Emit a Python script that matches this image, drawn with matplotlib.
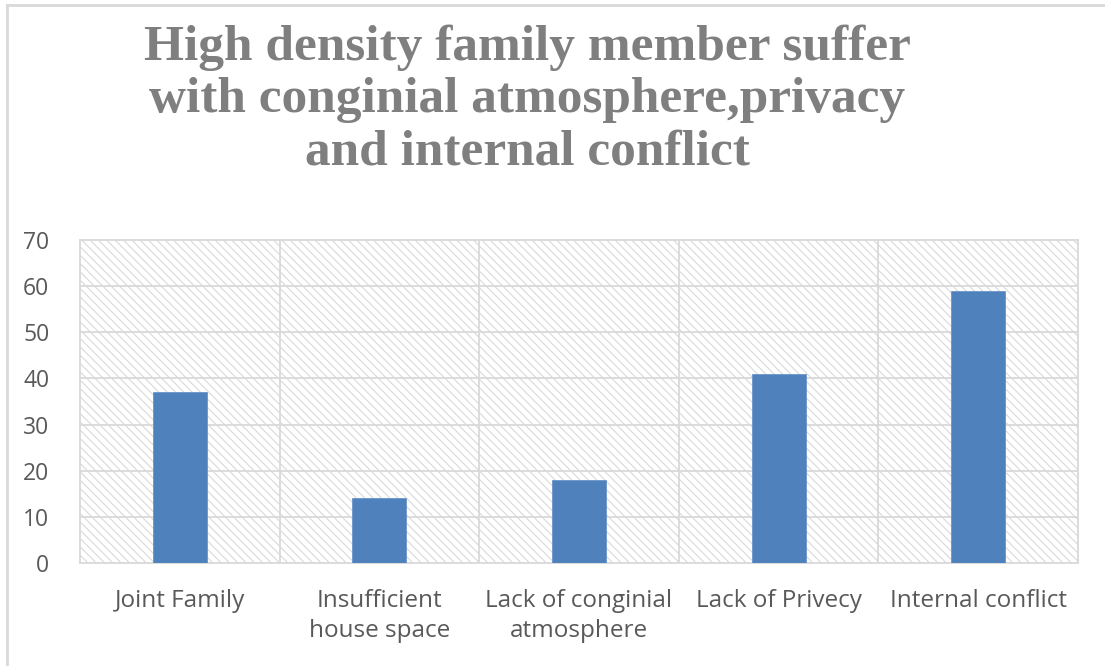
import matplotlib.pyplot as plt
from matplotlib.patches import Rectangle
from matplotlib.lines import Line2D

categories = ["Joint Family", "Insufficient\nhouse space", "Lack of conginial\natmosphere",
              "Lack of Privecy", "Internal conflict"]
values = [37, 14, 18, 41, 59]
yticks = [0, 10, 20, 30, 40, 50, 60, 70]

title = "High density family member suffer\nwith conginial atmosphere,privacy\nand internal conflict"

plt.rcParams["hatch.linewidth"] = 0.7
plt.rcParams["font.family"] = ["Open Sans", "DejaVu Sans"]

fig = plt.figure(figsize=(11.05, 6.66), dpi=100)
ax = fig.add_axes([80 / 1105, 1 - 563 / 666, 998 / 1105, 323 / 666])

# hatched plot area background
ax.add_patch(Rectangle((0, 0), 1, 1, transform=ax.transAxes, facecolor="white",
                       edgecolor="#d4d4d4", linewidth=0, hatch="\\\\\\\\", zorder=0))

x = range(len(categories))
ax.bar(x, values, width=0.27, color="#4f81bd", edgecolor="#6a94c8", linewidth=0.6, zorder=3)

ax.set_xlim(-0.5, len(categories) - 0.5)
ax.set_ylim(0, 70)
ax.set_yticks(yticks)
ax.set_xticks(list(x))
ax.set_xticklabels(categories, linespacing=1.3)
ax.tick_params(axis="both", length=0, colors="#595959")
ax.tick_params(axis="x", pad=19, labelsize=17.5)
ax.tick_params(axis="y", pad=22, labelsize=16.5)

for v in yticks[1:-1]:
    ax.axhline(v, color="#d9d9d9", linewidth=1.3, zorder=1)
for b in [0.5, 1.5, 2.5, 3.5]:
    ax.axvline(b, color="#d9d9d9", linewidth=1.3, zorder=1)
for s in ax.spines.values():
    s.set_color("#d9d9d9")
    s.set_linewidth(1.3)

fig.text(527 / 1105, 1 - 100 / 666, title, ha="center", va="center",
         fontsize=37, fontweight="bold", color="#7f7f7f", linespacing=1.17,
         family=["Liberation Serif"])

# chart frame edges
fig.add_artist(Line2D([7 / 1105, 1], [1 - 5 / 666, 1 - 5 / 666], color="#d9d9d9", linewidth=2))
fig.add_artist(Line2D([7 / 1105, 7 / 1105], [0, 1 - 5 / 666], color="#d9d9d9", linewidth=2))

fig.savefig("out.png", dpi=100)
